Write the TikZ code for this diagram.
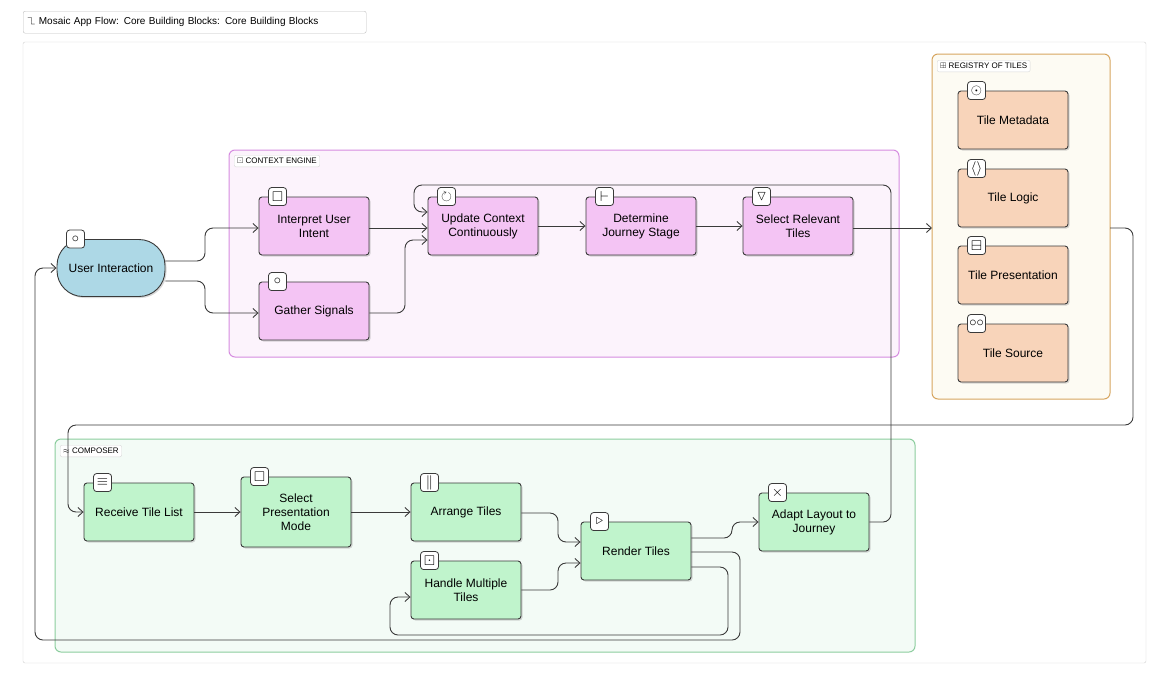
\documentclass[tikz,border=0pt]{standalone}
\usepackage{amssymb}
\usepackage{fontspec}
\setmainfont{Liberation Sans}
\usetikzlibrary{shadows,arrows.meta}
\definecolor{pinkF}{HTML}{F4C4F4}
\definecolor{blueF}{HTML}{ADD8E6}
\definecolor{orF}{HTML}{F8D4BA}
\definecolor{grF}{HTML}{C0F4CC}
\definecolor{ln}{HTML}{3A3A3A}
\begin{document}
\begin{tikzpicture}[x=1pt,y=-1pt,
 box/.style={draw=ln,line width=0.9pt,rounded corners=3pt,minimum width=110pt,minimum height=58pt,align=center,font=\fontsize{12}{14}\selectfont,drop shadow={shadow xshift=1.5pt,shadow yshift=-1.5pt,opacity=0.3}},
 pk/.style={box,fill=pinkF}, og/.style={box,fill=orF}, gr/.style={box,fill=grF},
 ico/.style={draw=ln,fill=white,rounded corners=3pt,minimum size=18pt,inner sep=0pt,line width=0.8pt,font=\fontsize{14}{14}\selectfont},
 grp/.style={rounded corners=6pt,line width=1pt},
 glab/.style={draw=black!15,fill=white,rounded corners=2pt,font=\fontsize{8}{9}\selectfont,inner sep=3pt,anchor=north west},
 ar/.style={draw=ln,line width=0.9pt,rounded corners=8pt,-{Straight Barb[length=5pt,width=9pt]}}]
\useasboundingbox (0,0) rectangle (1170,686);
\fill[white] (0,0) rectangle (1170,686);
\node[draw=black!25,rounded corners=2pt,anchor=north west,minimum width=343pt,minimum height=22pt,font=\fontsize{10}{12}\selectfont,inner sep=0pt,align=left,text width=335pt] (title) at (23,11) {$\urcorner\!\llcorner$\ Mosaic App Flow: Core Building Blocks: Core Building Blocks};
\draw[black!18,rounded corners=2pt] (23,42) rectangle (1146,663);
% groups
\draw[grp,fill={rgb,255:red,252;green,243;blue,252},draw={rgb,255:red,214;green,140;blue,224}] (229,150) rectangle (899,357);
\node[glab] (gc) at (234,155) {$\boxdot$ CONTEXT ENGINE};
\draw[grp,fill={rgb,255:red,253;green,251;blue,243},draw={rgb,255:red,215;green,165;blue,95}] (932,54) rectangle (1110,399);
\node[glab] (gr) at (937,60) {$\boxplus$ REGISTRY OF TILES};
\draw[grp,fill={rgb,255:red,243;green,251;blue,246},draw={rgb,255:red,140;green,205;blue,158}] (55,439) rectangle (915,652);
\coordinate (regW) at (932,228);
\coordinate (regE) at (1110,228);
\node[glab] (gcomp) at (60,445) {$\approx$ COMPOSER};
% nodes
\node[box,fill=blueF,rounded corners=26pt,minimum width=108pt,minimum height=57pt] (ui) at (111,268) {User Interaction};
\node[pk] (int) at (314,226) {Interpret User\\Intent};
\node[pk] (gat) at (314,311) {Gather Signals};
\node[pk] (upd) at (483,226) {Update Context\\Continuously};
\node[pk] (det) at (641,226) {Determine\\Journey Stage};
\node[pk] (sel) at (798,226) {Select Relevant\\Tiles};
\node[og] (t1) at (1013,120) {Tile Metadata};
\node[og] (t2) at (1013,198) {Tile Logic};
\node[og] (t3) at (1013,275) {Tile Presentation};
\node[og] (t4) at (1013,353) {Tile Source};
\node[gr] (rec) at (139,512) {Receive Tile List};
\node[gr,minimum height=70pt] (sp) at (296,512) {Select\\Presentation\\Mode};
\node[gr] (arr) at (466,512) {Arrange Tiles};
\node[gr] (han) at (466,590) {Handle Multiple\\Tiles};
\node[gr] (ren) at (636,551) {Render Tiles};
\node[gr] (ada) at (814,522) {Adapt Layout to\\Journey};
% icons
\foreach \n/\g in {ui/$\circ$,int/$\square$,gat/$\circ$,upd/$\circlearrowright$,det/$\vdash$,sel/$\triangledown$,t1/$\odot$,t2/$\langle\rangle$,t3/$\boxminus$,t4/$\circ\circ$,rec/$\equiv$,sp/$\square$,arr/$\parallel$,han/$\boxdot$,ren/$\triangleright$,ada/$\times$}
  \node[ico] (i\n) at ([xshift=19pt]\n.north west) {\g};
% edges
\draw[ar] (ui.east |- 0,261) -| (205,228) -- (int.west |- 0,228);
\draw[ar] (ui.east |- 0,281) -| (205,313) -- (gat.west |- 0,313);
\draw[ar] (int.east |- 0,228) -- (upd.west |- 0,228);
\draw[ar] (gat.east |- 0,313) -| (405,240) -- (upd.west |- 0,240);
\draw[ar] (upd) -- (det);
\draw[ar] (det) -- (sel);
\draw[ar] (sel.east |- 0,228) -- (regW);
\draw[ar] (regE) -| (1133,425) -| (68,512) -- (rec.west);
\draw[ar] (rec) -- (sp.west |- rec);
\draw[ar] (sp.east |- arr) -- (arr);
\draw[ar] (arr.east |- 0,513) -| (558,542) -- (ren.west |- 0,542);
\draw[ar] (han.east |- 0,590) -| (558,563) -- (ren.west |- 0,563);
\draw[ar] (ren.east |- 0,538) -| (732,522) -- (ada.west |- 0,522);
\draw[ar] (ada.east |- 0,522) -| (891,185) -| (414,212) -- (upd.west |- 0,212);
\draw[ar] (ren.east |- 0,567) -| (728,635) -| (390,597) -- (han.west |- 0,597);
\draw[ar] (ren.east |- 0,552) -| (740,640) -| (35,268) -- (ui.west);
\end{tikzpicture}
\end{document}
